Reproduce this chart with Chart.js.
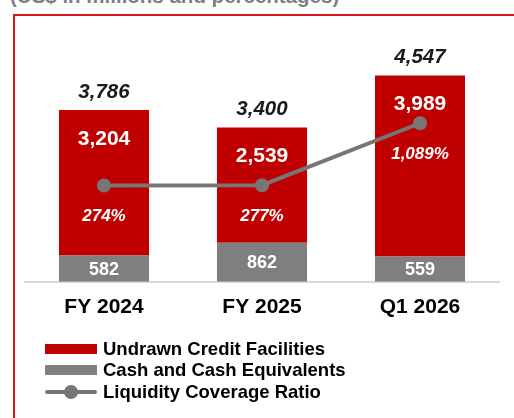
<!DOCTYPE html>
<html>
<head>
<meta charset="utf-8">
<script src="https://cdn.jsdelivr.net/npm/chart.js@4/dist/chart.umd.min.js"></script>
<style>
  html, body { margin: 0; padding: 0; background: #fff; }
  body { width: 514px; height: 418px; position: relative; overflow: hidden; font-family: "Liberation Sans", Arial, sans-serif; }
  .subtitulo { position: absolute; left: 10px; top: -14px; font-size: 20.5px; line-height: 1; font-weight: bold; color: #7f7f7f; white-space: nowrap; }
  .marco { position: absolute; left: 13px; top: 14px; width: 520px; height: 420px; border-top: 2px solid #d9141b; border-left: 2px solid #d9141b; }
  .grafica { position: absolute; left: 0; top: 0; width: 514px; height: 346px; }
  #leyenda { position: absolute; left: 45px; top: 338px; }
  .item { height: 21.5px; display: flex; align-items: center; font-size: 18.5px; font-weight: bold; color: #000; }
  .muestra { width: 52px; height: 10px; margin-right: 6px; position: relative; }
  .muestra.linea .trazo { position: absolute; left: 0; right: 0; top: 3px; height: 4px; border-radius: 2px; }
  .muestra.linea .punto { position: absolute; left: 19px; top: -2px; width: 14px; height: 14px; border-radius: 50%; }
</style>
</head>
<body>
<div class="subtitulo">(US$ in millions and percentages)</div>
<div class="marco"></div>
<div class="grafica"><canvas id="grafica"></canvas></div>
<div id="leyenda"></div>
<script>
  const periodos = ['FY 2024', 'FY 2025', 'Q1 2026'];
  const lineasNoUsadas = [3204, 2539, 3989];
  const efectivo = [582, 862, 559];
  const totales = [3786, 3400, 4547]; // como aparecen en el original (redondeo)
  const ratioLiquidez = [274, 277, 1089];
  const etiquetasRatio = ['274%', '277%', '1,089%'];

  const rojo = '#c00000';
  const gris = '#7f7f7f';
  const grisLinea = '#767676';

  const fmt = n => n.toLocaleString('en-US');

  // Etiquetas de valores sobre las barras y la linea
  const pluginEtiquetas = {
    id: 'etiquetas',
    afterDatasetsDraw(chart) {
      const ctx = chart.ctx;
      const metaEfectivo = chart.getDatasetMeta(0);
      const metaLineas = chart.getDatasetMeta(1);
      const metaRatio = chart.getDatasetMeta(2);
      ctx.save();
      ctx.textAlign = 'center';
      ctx.textBaseline = 'middle';
      periodos.forEach((p, i) => {
        const barG = metaEfectivo.data[i];
        const barR = metaLineas.data[i];
        const pt = metaRatio.data[i];
        // efectivo
        ctx.fillStyle = '#fff';
        ctx.font = 'bold 18px "Liberation Sans", Arial';
        ctx.fillText(fmt(efectivo[i]), barG.x, (barG.y + barG.base) / 2 + 1);
        // lineas de credito
        ctx.font = 'bold 21px "Liberation Sans", Arial';
        ctx.fillText(fmt(lineasNoUsadas[i]), barR.x, barR.y + 29);
        // ratio
        ctx.font = 'italic bold 17px "Liberation Sans", Arial';
        ctx.fillText(etiquetasRatio[i], pt.x, pt.y + 31);
        // total
        ctx.fillStyle = '#1a1a1a';
        ctx.font = 'italic bold 20.5px "Liberation Sans", Arial';
        ctx.fillText(fmt(totales[i]), barR.x, barR.y - 18);
      });
      ctx.restore();
    }
  };

  const grafica = new Chart(document.getElementById('grafica'), {
    type: 'bar',
    data: {
      labels: periodos,
      datasets: [
        { label: 'Cash and Cash Equivalents', data: efectivo, backgroundColor: gris, stack: 's', order: 1, yAxisID: 'y' },
        { label: 'Undrawn Credit Facilities', data: lineasNoUsadas, backgroundColor: rojo, stack: 's', order: 1, yAxisID: 'y' },
        { label: 'Liquidity Coverage Ratio', type: 'line', data: ratioLiquidez, borderColor: grisLinea, backgroundColor: grisLinea,
          borderWidth: 4, pointRadius: 7, pointHoverRadius: 7, pointBackgroundColor: grisLinea, pointBorderWidth: 0, order: 0, yAxisID: 'y2' }
      ]
    },
    options: {
      responsive: true,
      maintainAspectRatio: false,
      animation: false,
      barPercentage: 0.57,
      categoryPercentage: 1,
      layout: { padding: { left: 25, right: 15, top: 55, bottom: 13 } },
      plugins: { legend: { display: false }, tooltip: { enabled: false } },
      scales: {
        x: {
          stacked: true,
          grid: { display: false, drawTicks: false },
          border: { display: true, color: '#d9d9d9', width: 2 },
          ticks: { color: '#000', padding: 13, font: { family: '"Liberation Sans", Arial', size: 21, weight: 'bold' } }
        },
        y: { stacked: true, display: false, min: 0, max: 5000 },
        y2: { display: false, min: -988, max: 1983 }
      }
    },
    plugins: [pluginEtiquetas]
  });

  // Leyenda en columna, en el orden del original
  const leyenda = document.getElementById('leyenda');
  [1, 0, 2].forEach(idx => {
    const ds = grafica.data.datasets[idx];
    const item = document.createElement('div');
    item.className = 'item';
    const muestra = document.createElement('div');
    if (ds.type === 'line') {
      muestra.className = 'muestra linea';
      muestra.innerHTML = `<div class="trazo" style="background:${ds.borderColor}"></div><div class="punto" style="background:${ds.borderColor}"></div>`;
    } else {
      muestra.className = 'muestra';
      muestra.style.background = ds.backgroundColor;
    }
    item.appendChild(muestra);
    item.appendChild(document.createTextNode(ds.label));
    leyenda.appendChild(item);
  });
</script>
</body>
</html>
